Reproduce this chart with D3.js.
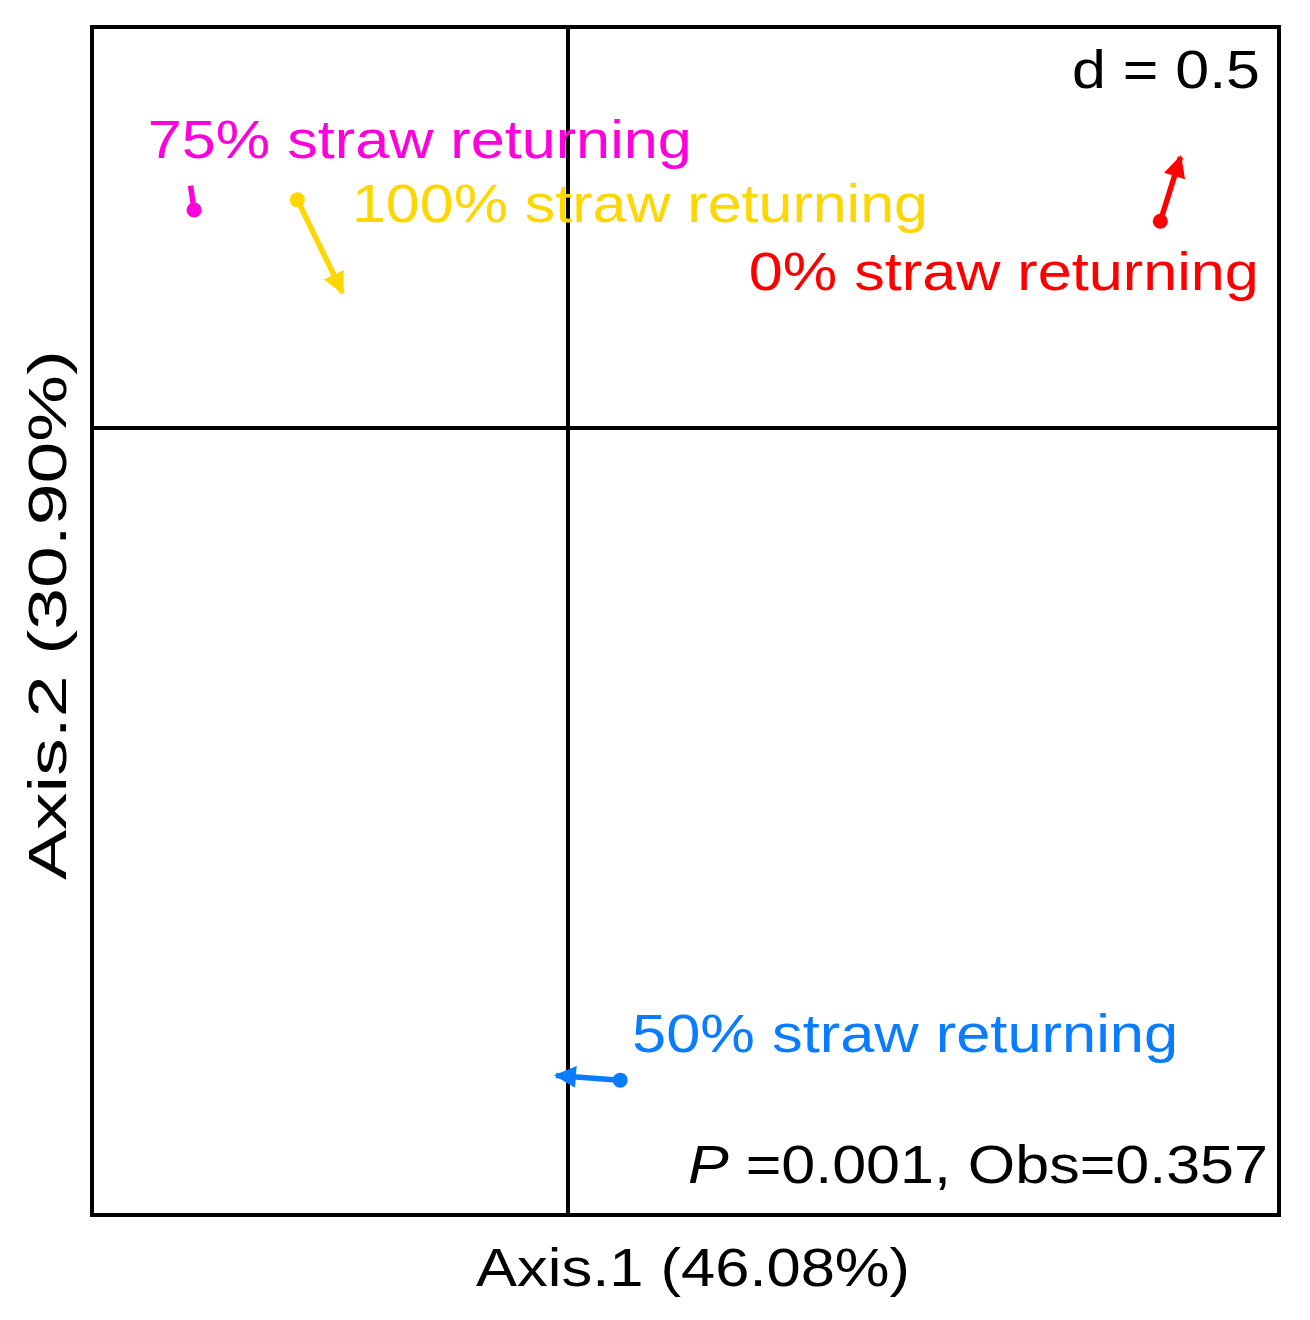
<!DOCTYPE html>
<html>
<head>
<meta charset="utf-8">
<script src="https://cdn.jsdelivr.net/npm/d3@7"></script>
<style>
  body { margin: 0; background: #fff; }
  text { font-family: "Liberation Sans", Arial, sans-serif; }
</style>
</head>
<body>
<div id="chart"></div>
<script>
// groups, colours and Procrustes coordinates (start = point, end = arrow tip)
const groups = ["75% straw returning", "100% straw returning", "0% straw returning", "50% straw returning"];
const colors = ["#ff00dd", "#ffd700", "#ff0000", "#0a7cff"];
const startX = [-0.315, -0.228, 0.499, 0.044];
const startY = [0.1835, 0.192, 0.174, -0.549];
const endX = [-0.318, -0.190, 0.516, -0.010];
const endY = [0.204, 0.114, 0.228, -0.545];
// label positions in data units
const labelX = [-0.354, -0.182, 0.582, 0.054];
const labelY = [0.227, 0.173, 0.116, -0.525];
const labelAnchor = ["start", "start", "end", "start"];
const labelWidth = [544, 576, 510, 546];

const W = 1310, H = 1320;
const margin = { top: 27, right: 31, bottom: 105, left: 92 };
const width = W - margin.left - margin.right,
  height = H - margin.top - margin.bottom;
const fs = 53;

const svg = d3.select("#chart").append("svg")
  .attr("width", W).attr("height", H);
const g = svg.append("g").attr("transform", `translate(${margin.left},${margin.top})`);

const x = d3.scaleLinear().domain([-0.401, 0.599]).range([0, width]);
const y = d3.scaleLinear().domain([-0.6625, 0.3375]).range([height, 0]);

// zero cross lines
g.append("line").attr("x1", x(0)).attr("x2", x(0)).attr("y1", 0).attr("y2", height)
  .attr("stroke", "#000").attr("stroke-width", 4);
g.append("line").attr("x1", 0).attr("x2", width).attr("y1", y(0)).attr("y2", y(0))
  .attr("stroke", "#000").attr("stroke-width", 4);

g.append("rect").attr("width", width).attr("height", height)
  .attr("fill", "none").attr("stroke", "#000").attr("stroke-width", 4);

const defs = svg.append("defs");
colors.forEach((c, i) => {
  defs.append("marker").attr("id", "arr" + i)
    .attr("viewBox", "0 0 10 10").attr("refX", 9).attr("refY", 5)
    .attr("markerWidth", 5).attr("markerHeight", 4).attr("markerUnits", "strokeWidth")
    .attr("orient", "auto")
    .append("path").attr("d", "M0,0 L10,5 L0,10 Z").attr("fill", c);
});

const idx = d3.range(groups.length);
g.selectAll(".seg").data(idx).join("line")
  .attr("x1", i => x(startX[i])).attr("y1", i => y(startY[i]))
  .attr("x2", i => x(endX[i])).attr("y2", i => y(endY[i]))
  .attr("stroke", i => colors[i]).attr("stroke-width", 5.5)
  .attr("marker-end", i => i === 0 ? null : `url(#arr${i})`);

g.selectAll(".pt").data(idx).join("circle")
  .attr("cx", i => x(startX[i])).attr("cy", i => y(startY[i]))
  .attr("r", 7.5).attr("fill", i => colors[i]);

g.selectAll(".lab").data(idx).join("text")
  .attr("x", i => x(labelX[i])).attr("y", i => y(labelY[i]))
  .attr("text-anchor", i => labelAnchor[i])
  .attr("fill", i => colors[i]).attr("font-size", fs)
  .attr("textLength", i => labelWidth[i]).attr("lengthAdjust", "spacingAndGlyphs")
  .text(i => groups[i]);

g.append("text").attr("x", width - 19).attr("y", 61).attr("text-anchor", "end")
  .attr("font-size", fs).attr("textLength", 188).attr("lengthAdjust", "spacingAndGlyphs")
  .text("d = 0.5");

const stat = g.append("text").attr("x", width - 11).attr("y", height - 32)
  .attr("text-anchor", "end").attr("font-size", fs)
  .attr("textLength", 580).attr("lengthAdjust", "spacingAndGlyphs");
stat.append("tspan").attr("font-style", "italic").text("P");
stat.append("tspan").text(" =0.001, Obs=0.357");

svg.append("text").attr("x", 693).attr("y", 1286)
  .attr("text-anchor", "middle").attr("font-size", fs)
  .attr("textLength", 434).attr("lengthAdjust", "spacingAndGlyphs")
  .text("Axis.1 (46.08%)");

svg.append("text").attr("transform", `translate(66,615) rotate(-90)`)
  .attr("text-anchor", "middle").attr("font-size", fs)
  .attr("textLength", 530).attr("lengthAdjust", "spacingAndGlyphs")
  .text("Axis.2 (30.90%)");
</script>
</body>
</html>
